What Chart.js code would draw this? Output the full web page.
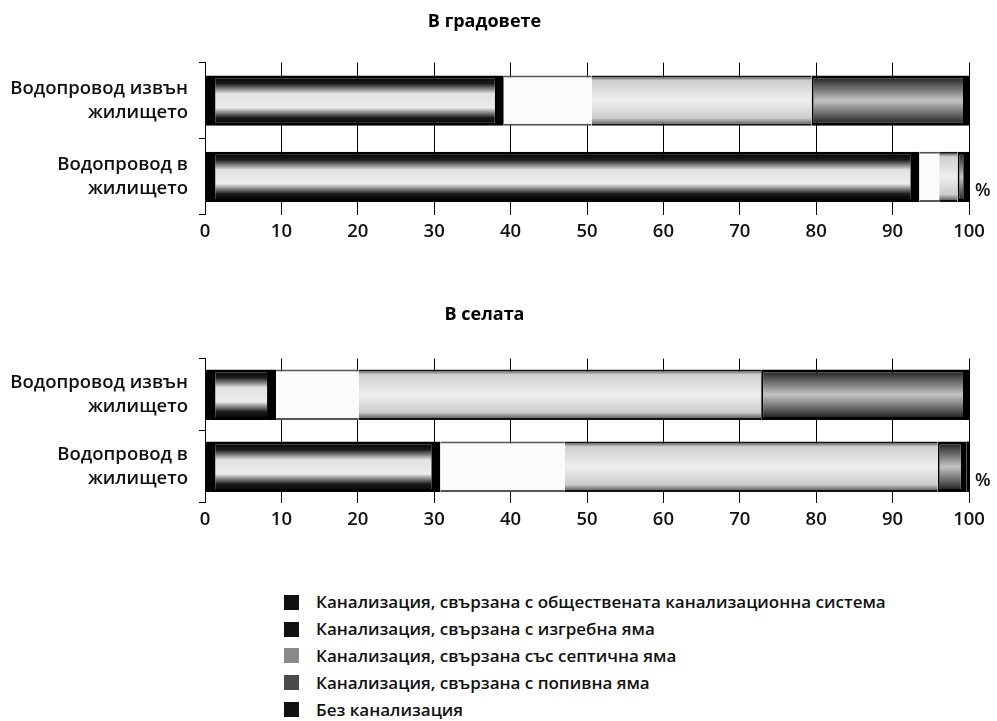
<!DOCTYPE html>
<html lang="bg">
<head>
<meta charset="utf-8">
<script src="https://cdn.jsdelivr.net/npm/chart.js@4/dist/chart.umd.min.js"></script>
<style>
  html, body { margin: 0; padding: 0; background: #fff; overflow: hidden; }
  body { width: 997px; height: 721px; position: relative; }
  .box { position: absolute; left: 0; }
  #townBox { top: 0; width: 1026px; height: 250px; }
  #villageBox { top: 290px; width: 1026px; height: 248px; }
  #legend {
    position: absolute; left: 284px; top: 589px; margin: 0; padding: 0; list-style: none;
    font-family: 'Open Sans', 'Noto Sans', sans-serif; font-weight: 600; font-size: 17px; color: #111;
  }
  #legend li { height: 26.8px; line-height: 22px; display: flex; align-items: center; }
  #legend .sw { width: 15px; height: 15px; margin-right: 17px; display: inline-block; }
</style>
</head>
<body>
<div class="box" id="townBox"><canvas id="town"></canvas></div>
<div class="box" id="villageBox"><canvas id="village"></canvas></div>
<ul id="legend"></ul>

<script>
// categories (bar rows)
const rows = [['Водопровод извън', 'жилището'], ['Водопровод в', 'жилището']];

// series names
const seriesNames = [
  'Канализация, свързана с обществената канализационна система',
  'Канализация, свързана с изгребна яма',
  'Канализация, свързана със септична яма',
  'Канализация, свързана с попивна яма',
  'Без канализация'
];

// values in %, [outside dwelling, inside dwelling]
const townPublic    = [39.1, 93.5];
const townCesspit   = [11.5, 2.6];
const townSeptic    = [28.8, 2.4];
const townAbsorbing = [20.6, 1.5];
const townNone      = [0.0, 0.0];

const villagePublic    = [9.3, 30.8];
const villageCesspit   = [10.8, 16.3];
const villageSeptic    = [52.7, 48.8];
const villageAbsorbing = [27.2, 3.8];
const villageNone      = [0.0, 0.3];

const xTicks = [0, 10, 20, 30, 40, 50, 60, 70, 80, 90, 100];

const legendSwatch = ['#111', '#111', '#8a8a8a', '#4a4a4a', '#111'];

const fontBase = "'Open Sans', 'Noto Sans', sans-serif";
const titleFont = "'Open Sans', 'Noto Sans', sans-serif";

// vertical "stipple" look: gradient across the height of each bar
function band(stops, barPct) {
  return (ctx) => {
    const chart = ctx.chart;
    const ys = chart.scales && chart.scales.y;
    if (ctx.type !== 'data' || !ys || !ys.height) return stops[Math.floor(stops.length / 2)][1];
    const cy = ys.getPixelForValue(ctx.dataIndex);
    const h = ys.height / rows.length * barPct;
    const g = chart.ctx.createLinearGradient(0, cy - h / 2, 0, cy + h / 2);
    stops.forEach(s => g.addColorStop(s[0], s[1]));
    return g;
  };
}

function makeDatasets(vals, barPct) {
  return [
    {
      label: seriesNames[0], data: vals[0],
      backgroundColor: band([[0, '#000'], [0.16, '#1a1a1a'], [0.36, '#e2e2e2'], [0.64, '#ececec'], [0.84, '#1a1a1a'], [1, '#000']], barPct),
      borderColor: '#000', borderWidth: { top: 3, bottom: 3, left: 10, right: 9 }
    },
    {
      label: seriesNames[1], data: vals[1],
      backgroundColor: '#fbfbfb',
      borderColor: '#555', borderWidth: { top: 2, bottom: 2, left: 0, right: 0 }
    },
    {
      label: seriesNames[2], data: vals[2],
      backgroundColor: band([[0, '#333'], [0.1, '#cfcfcf'], [0.5, '#efefef'], [0.85, '#cbcbcb'], [1, '#444']], barPct),
      borderColor: '#111', borderWidth: { top: 2, bottom: 2, left: 0, right: 0 }
    },
    {
      label: seriesNames[3], data: vals[3],
      backgroundColor: band([[0, '#111'], [0.18, '#555'], [0.5, '#c4c4c4'], [0.82, '#555'], [1, '#111']], barPct),
      borderColor: '#000', borderWidth: { top: 3, bottom: 3, left: 2, right: 6 }
    },
    {
      label: seriesNames[4], data: vals[4],
      backgroundColor: '#000', borderColor: '#000', borderWidth: 0
    }
  ].map(d => Object.assign(d, { barPercentage: barPct, categoryPercentage: 1, borderSkipped: false }));
}

const percentSign = {
  id: 'percentSign',
  afterDraw(chart) {
    const { ctx, chartArea, scales } = chart;
    const y = scales.y.getPixelForValue(rows.length - 1) + 14;
    ctx.save();
    ctx.font = '600 18px ' + fontBase;
    ctx.fillStyle = '#111';
    ctx.textBaseline = 'middle';
    ctx.fillText('%', chartArea.right + 6, y);
    ctx.restore();
  }
};

function makeChart(id, title, vals, barPct, titlePad) {
  return new Chart(document.getElementById(id), {
    type: 'bar',
    data: { labels: rows, datasets: makeDatasets(vals, barPct) },
    plugins: [percentSign],
    options: {
      indexAxis: 'y',
      responsive: true,
      maintainAspectRatio: false,
      animation: false,
      layout: { padding: { left: 0, right: 57, top: 0, bottom: 3 } },
      plugins: {
        legend: { display: false },
        tooltip: { enabled: false },
        title: {
          display: true, text: title, color: '#000',
          font: { family: titleFont, size: 18, weight: 'bold' },
          padding: titlePad
        }
      },
      scales: {
        x: {
          stacked: true, min: 0, max: 100,
          afterBuildTicks: s => { s.ticks = xTicks.map(v => ({ value: v })); },
          afterFit: s => { s.height = 30; },
          grid: { color: '#000', lineWidth: 1, drawTicks: false },
          border: { display: false },
          ticks: { color: '#111', padding: 6, font: { family: fontBase, size: 18.5, weight: '600' } }
        },
        y: {
          stacked: true,
          afterFit: s => { s.width = 205; },
          grid: { drawOnChartArea: false, drawTicks: true, tickLength: 6, color: '#000', offset: true },
          border: { display: true, color: '#000', width: 1 },
          ticks: { color: '#111', padding: 11, font: { family: fontBase, size: 18.5, weight: '600', lineHeight: 1.3 } }
        }
      }
    }
  });
}

makeChart('town', 'В градовете',
  [townPublic, townCesspit, townSeptic, townAbsorbing, townNone], 0.66, { top: 11, bottom: 30 });
makeChart('village', 'В селата',
  [villagePublic, villageCesspit, villageSeptic, villageAbsorbing, villageNone], 0.70, { top: 14, bottom: 33 });

// legend
const legend = document.getElementById('legend');
seriesNames.forEach((name, i) => {
  const li = document.createElement('li');
  const sw = document.createElement('span');
  sw.className = 'sw';
  sw.style.background = legendSwatch[i];
  li.appendChild(sw);
  li.appendChild(document.createTextNode(name));
  legend.appendChild(li);
});
</script>
</body>
</html>
